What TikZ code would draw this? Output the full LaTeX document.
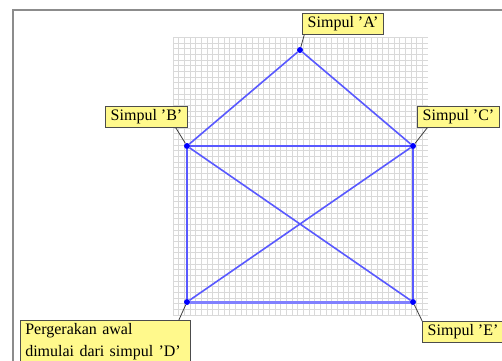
\documentclass[tikz,border=0pt]{standalone}
\usepackage{fontspec}
\setmainfont{Liberation Serif}
\usetikzlibrary{positioning}
\tikzset{simpul/.style={circle, fill=blue, inner sep=0pt, minimum size=6pt}}
\tikzset{sisi/.style={draw=blue!65, line width=1.6pt}}
\tikzset{sisiawal/.style={draw=blue!50, line width=3pt}}
\tikzset{keterangan/.style={draw=black!70, line width=0.9pt, fill=yellow!45, inner xsep=5pt, inner ysep=3pt, align=left}}
\tikzset{satubaris/.style={keterangan, text height=11pt, text depth=3.5pt}}
\tikzset{penunjuk/.style={draw=black!75, line width=0.8pt}}
\tikzset{kisi/.style={draw=black!15, line width=0.5pt}}
\tikzset{bingkai/.style={draw=black!45, line width=2pt}}

\begin{document}
\begin{tikzpicture}[x=1pt, y=1pt, font={\fontsize{16}{22}\selectfont}]
\useasboundingbox (0,0) rectangle (502,-360);
\clip (0,0) rectangle (502,-360);
\fill[white] (0,0) rectangle (502,-360);
\draw[bingkai] (13,-10) rectangle (540,-400);
\begin{scope}[xshift=173pt, yshift=-315pt]
\draw[kisi, step=5.667pt] (0,0) grid (255,278);
\end{scope}

% simpul
\node[simpul] (A) at (300,-50) {};
\node[simpul] (B) at (187,-146) {};
\node[simpul] (C) at (413,-146) {};
\node[simpul] (D) at (187,-302) {};
\node[simpul] (E) at (413,-302) {};

% sisi
\draw[sisiawal] (D) -- (E);
\draw[sisi] (A) -- (B);
\draw[sisi] (A) -- (C);
\draw[sisi] (B) -- (C);
\draw[sisi] (B) -- (D);
\draw[sisi] (C) -- (E);
\draw[sisi] (B) -- (E);
\draw[sisi] (C) -- (D);

% keterangan
\node[satubaris, above right=13pt and 0pt of A] (ketA) {Simpul 'A'};
\node[satubaris, above left=16pt and -3pt of B] (ketB) {Simpul 'B'};
\node[satubaris, above right=16pt and 2pt of C] (ketC) {Simpul 'C'};
\node[keterangan, text width=160pt, below left=16pt and -6pt of D] (ketD) {Pergerakan awal\\dimulai dari simpul 'D'};
\node[satubaris, below right=17pt and 7pt of E] (ketE) {Simpul 'E'};

\draw[penunjuk] ([xshift=2pt]ketA.south west) -- (A);
\draw[penunjuk] ([xshift=-12pt]ketB.south east) -- (B);
\draw[penunjuk] ([xshift=10pt]ketC.south west) -- (C);
\draw[penunjuk] ([xshift=-12pt]ketD.north east) -- (D);
\draw[penunjuk] (ketE.north west) -- (E);
\end{tikzpicture}
\end{document}
